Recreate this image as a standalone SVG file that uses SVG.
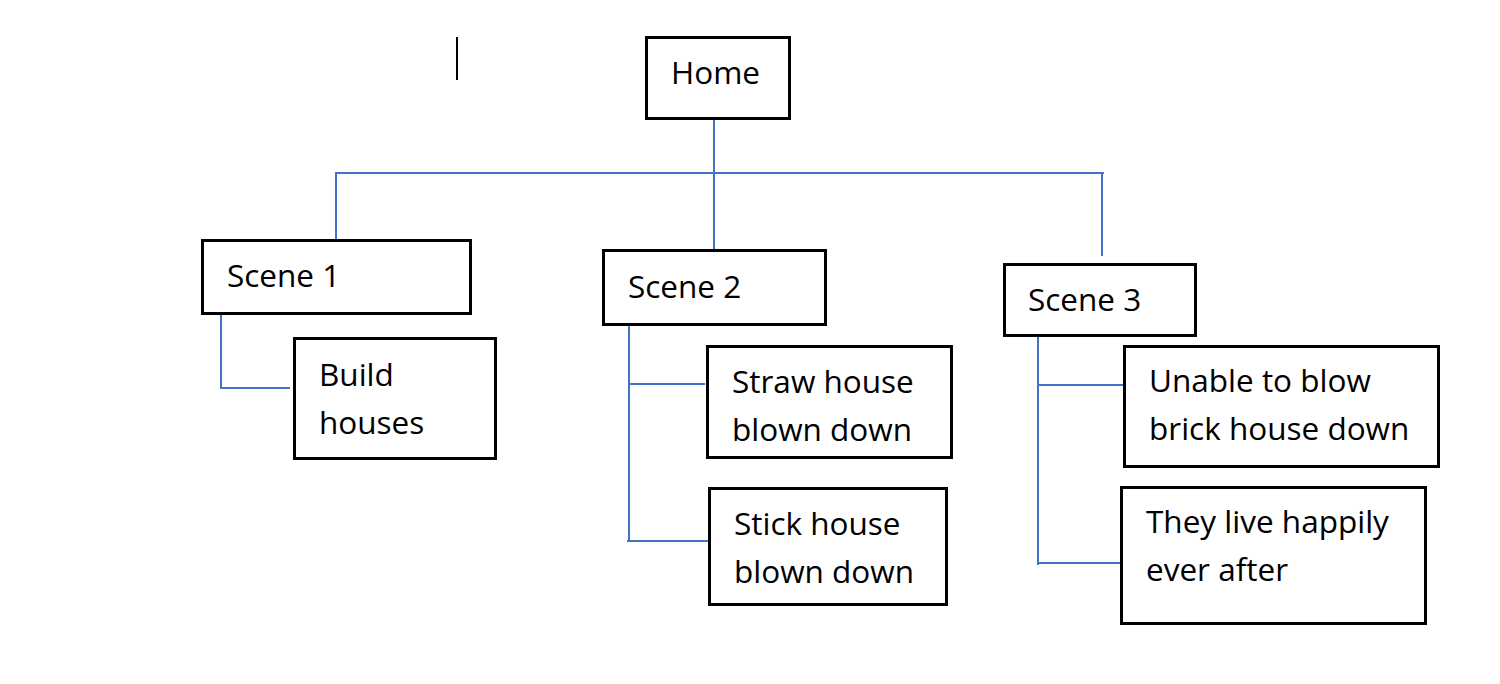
<svg xmlns="http://www.w3.org/2000/svg" width="1500" height="684" viewBox="0 0 1500 684">
<style>
.box{fill:#fff;stroke:#000;stroke-width:3}
.t{font-family:"Open Sans","Noto Sans",sans-serif;font-size:31.5px;fill:#000}
.c{stroke:#4472C4;stroke-width:2;fill:none}
</style>
<rect width="1500" height="684" fill="#fff"/>
<line x1="457" y1="37" x2="457" y2="80" stroke="#000" stroke-width="2"/>
<g id="connectors">
<line class="c" x1="714" y1="118" x2="714" y2="250"/>
<line class="c" x1="335" y1="173" x2="1104" y2="173"/>
<line class="c" x1="336" y1="173" x2="336" y2="239"/>
<line class="c" x1="1102" y1="173" x2="1102" y2="256"/>
<polyline class="c" points="221,314 221,388 290,388"/>
<line class="c" x1="629" y1="325" x2="629" y2="541"/>
<line class="c" x1="629" y1="384" x2="705" y2="384"/>
<line class="c" x1="627" y1="541" x2="708" y2="541"/>
<line class="c" x1="1038" y1="336" x2="1038" y2="565"/>
<line class="c" x1="1038" y1="385" x2="1124" y2="385"/>
<line class="c" x1="1038" y1="563" x2="1121" y2="563"/>
</g>
<g id="home"><rect class="box" x="646.5" y="37.5" width="143" height="81"/><text class="t" x="671" y="84">Home</text></g>
<g id="scene1"><rect class="box" x="202.5" y="240.5" width="268" height="73"/><text class="t" x="227" y="287">Scene 1</text></g>
<g id="build"><rect class="box" x="294.5" y="338.5" width="201" height="120"/><text class="t" x="319" y="386">Build</text><text class="t" x="319" y="434">houses</text></g>
<g id="scene2"><rect class="box" x="603.5" y="250.5" width="222" height="74"/><text class="t" x="628" y="298">Scene 2</text></g>
<g id="straw"><rect class="box" x="707.5" y="346.5" width="244" height="111"/><text class="t" x="732" y="393">Straw house</text><text class="t" x="732" y="441">blown down</text></g>
<g id="stick"><rect class="box" x="709.5" y="488.5" width="237" height="116"/><text class="t" x="734" y="535">Stick house</text><text class="t" x="734" y="583">blown down</text></g>
<g id="scene3"><rect class="box" x="1004.5" y="264.5" width="191" height="71"/><text class="t" x="1028" y="311">Scene 3</text></g>
<g id="unable"><rect class="box" x="1124.5" y="346.5" width="314" height="120"/><text class="t" x="1149" y="392">Unable to blow</text><text class="t" x="1149" y="440">brick house down</text></g>
<g id="they"><rect class="box" x="1121.5" y="487.5" width="304" height="136"/><text class="t" x="1146" y="533">They live happily</text><text class="t" x="1146" y="581">ever after</text></g>
</svg>
